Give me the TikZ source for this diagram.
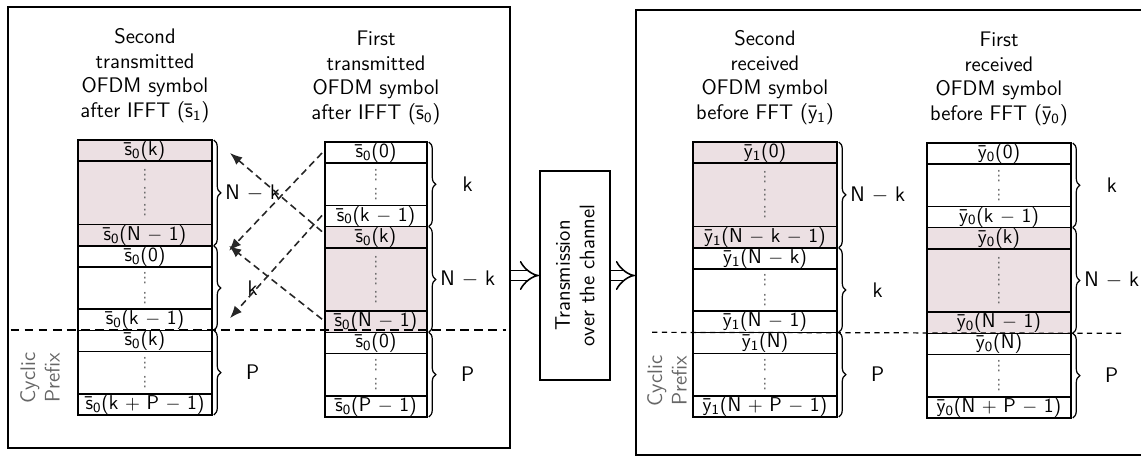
\documentclass[tikz,border=0pt]{standalone}
\usepackage{amsmath}
\usepackage{fontspec}
\usepackage{xcolor}
\usepackage{tikz}
\usetikzlibrary{positioning,decorations.pathreplacing,arrows.meta}

\newfontfamily\dotsfont{DejaVu Sans}
\definecolor{cellpink}{RGB}{236,224,227}
\newcommand{\sv}[1]{\=s\textsubscript{0}(#1)}
\newcommand{\yv}[2]{\=y\textsubscript{#1}(#2)}
\newcommand{\dtwo}{{\dotsfont\footnotesize\color{black!60}\vbox{\baselineskip=11pt\hbox{⋮}\hbox{⋮}}}}
\newcommand{\dthree}{{\dotsfont\footnotesize\color{black!60}\vbox{\baselineskip=10pt\hbox{⋮}\hbox{⋮}\hbox{⋮}}}}

\tikzset{
  cell/.style={draw, line width=0.9pt, inner sep=0pt, outer sep=0pt, font=\fontsize{11.4}{13}\selectfont\sffamily},
  head/.style={align=center, font=\large\sffamily},
  panel/.style={draw, line width=1.1pt},
  brc/.style={decorate, decoration={brace, amplitude=4pt}, line width=0.7pt},
  blbl/.style={midway, xshift=0.78cm, font=\large\sffamily},
  xarr/.style={draw=black!85, line width=0.9pt, dash pattern=on 4pt off 2.5pt, -{Latex[length=7pt,width=5.5pt]}},
  dbl/.style={double, double distance=5pt, line width=0.9pt, -{Implies}},
  cyc/.style={rotate=90, align=center, text=black!60, font=\large\sffamily}
}

\begin{document}
\begin{tikzpicture}[x=0.02cm, y=-0.02cm]
\useasboundingbox (0,0) rectangle (1141,457);

% panels and channel
\node[panel, minimum width=10.04cm, minimum height=8.82cm] (lp) at (259,227.5) {};
\node[panel, minimum width=10.48cm, minimum height=8.9cm] (rp) at (898,232.5) {};
\node[draw, line width=1.1pt, rotate=90, align=center, font=\large\sffamily,
      minimum width=4.18cm, minimum height=1.4cm] (tr) at (575,275.5) {Transmission\\over the channel};
\draw[dbl] (lp.east |- tr.center) -- (tr.north);
\draw[dbl] (tr.south) -- (rp.west |- tr.center);

% second transmitted symbol
\coordinate (a0) at (145,140);
\foreach \t/\h/\f [count=\i, remember=\i as \j (initially 0)] in {
  {\sv{k}}/1/cellpink, \dthree/3/cellpink, {\sv{N $-$ 1}}/1/cellpink,
  {\sv{0}}/1/white, \dtwo/2/white, {\sv{k $-$ 1}}/1/white,
  {\sv{k}}/1/white, \dtwo/2/white, {\sv{k $+$ P $-$ 1}}/1/white}
  \node[cell, minimum width=2.68cm, minimum height=\h*0.423cm, fill=\f, below=0pt of a\j] (a\i) {\t};

% first transmitted symbol
\coordinate (b0) at (376,142);
\foreach \t/\h/\f [count=\i, remember=\i as \j (initially 0)] in {
  {\sv{0}}/1/white, \dtwo/2/white, {\sv{k $-$ 1}}/1/white,
  {\sv{k}}/1/cellpink, \dthree/3/cellpink, {\sv{N $-$ 1}}/1/cellpink,
  {\sv{0}}/1/white, \dtwo/2/white, {\sv{P $-$ 1}}/1/white}
  \node[cell, minimum width=2.04cm, minimum height=\h*0.423cm, fill=\f, below=0pt of b\j] (b\i) {\t};

% second received symbol
\coordinate (c0) at (765,142);
\foreach \t/\h/\f [count=\i, remember=\i as \j (initially 0)] in {
  {\yv{1}{0}}/1/cellpink, \dthree/3/cellpink, {\yv{1}{N $-$ k $-$ 1}}/1/cellpink,
  {\yv{1}{N $-$ k}}/1/white, \dtwo/2/white, {\yv{1}{N $-$ 1}}/1/white,
  {\yv{1}{N}}/1/white, \dtwo/2/white, {\yv{1}{N $+$ P $-$ 1}}/1/white}
  \node[cell, minimum width=2.88cm, minimum height=\h*0.423cm, fill=\f, below=0pt of c\j] (c\i) {\t};

% first received symbol
\coordinate (d0) at (999,143);
\foreach \t/\h/\f [count=\i, remember=\i as \j (initially 0)] in {
  {\yv{0}{0}}/1/white, \dtwo/2/white, {\yv{0}{k $-$ 1}}/1/white,
  {\yv{0}{k}}/1/cellpink, \dthree/3/cellpink, {\yv{0}{N $-$ 1}}/1/cellpink,
  {\yv{0}{N}}/1/white, \dtwo/2/white, {\yv{0}{N $+$ P $-$ 1}}/1/white}
  \node[cell, minimum width=2.88cm, minimum height=\h*0.423cm, fill=\f, below=0pt of d\j] (d\i) {\t};

% headings
\node[head, above=0.22cm of a1] (ha) {Second\\transmitted\\OFDM symbol\\after IFFT (\=s\textsubscript{1})};
\node[head, above=0.22cm of b1] (hb) {First\\transmitted\\OFDM symbol\\after IFFT (\=s\textsubscript{0})};
\node[head, above=0.22cm of c1] (hc) {Second\\received\\OFDM symbol\\before FFT (\=y\textsubscript{1})};
\node[head, above=0.22cm of d1] (hd) {First\\received\\OFDM symbol\\before FFT (\=y\textsubscript{0})};

% braces
\draw[brc] ([xshift=1pt]a1.north east) -- ([xshift=1pt]a3.south east) node[blbl] {N $-$ k};
\draw[brc] ([xshift=1pt]a4.north east) -- ([xshift=1pt]a6.south east) node[blbl] {k};
\draw[brc] ([xshift=1pt]a7.north east) -- ([xshift=1pt]a9.south east) node[blbl] {P};
\draw[brc] ([xshift=1pt]b1.north east) -- ([xshift=1pt]b3.south east) node[blbl] {k};
\draw[brc] ([xshift=1pt]b4.north east) -- ([xshift=1pt]b6.south east) node[blbl] {N $-$ k};
\draw[brc] ([xshift=1pt]b7.north east) -- ([xshift=1pt]b9.south east) node[blbl] {P};
\draw[brc] ([xshift=1pt]c1.north east) -- ([xshift=1pt]c3.south east) node[blbl] {N $-$ k};
\draw[brc] ([xshift=1pt]c4.north east) -- ([xshift=1pt]c6.south east) node[blbl] {k};
\draw[brc] ([xshift=1pt]c7.north east) -- ([xshift=1pt]c9.south east) node[blbl] {P};
\draw[brc] ([xshift=1pt]d1.north east) -- ([xshift=1pt]d3.south east) node[blbl] {k};
\draw[brc] ([xshift=1pt]d4.north east) -- ([xshift=1pt]d6.south east) node[blbl] {N $-$ k};
\draw[brc] ([xshift=1pt]d7.north east) -- ([xshift=1pt]d9.south east) node[blbl] {P};

% cyclic prefix
\draw[line width=1pt, dash pattern=on 5pt off 3pt] ([xshift=2pt]lp.west |- a6.south) -- ([xshift=-3pt]lp.east |- a6.south);
\draw[line width=0.7pt, dash pattern=on 3pt off 2.5pt] ([xshift=0.34cm]rp.west |- c6.south) -- ([xshift=1.04cm]d6.south east);
\node[cyc] (cpa) at (40,378) {Cyclic\\Prefix};
\node[cyc] (cpc) at (667,381) {Cyclic\\Prefix};

% sample moves
\draw[xarr] ([shift={(-3,5)}]b4.north west) -- ([shift={(18,13)}]a1.north east);
\draw[xarr] ([shift={(-3,11)}]b1.north west) -- ([shift={(17,5)}]a4.north east);
\draw[xarr] ([shift={(-3,8)}]b6.north west) -- ([shift={(17,0)}]a4.north east);
\draw[xarr] ([shift={(-3,10)}]b3.north west) -- ([shift={(18,9)}]a6.north east);
\end{tikzpicture}
\end{document}
